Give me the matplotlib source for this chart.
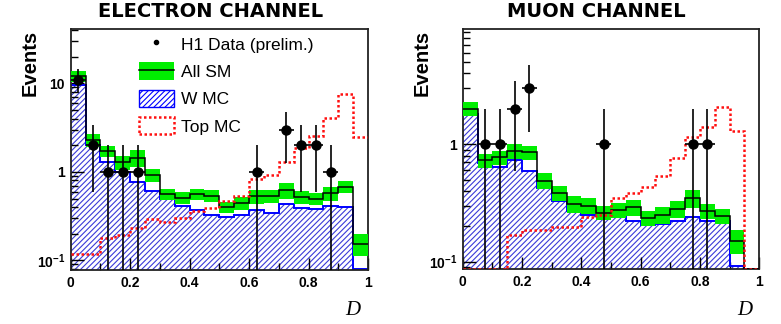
import numpy as np
import matplotlib.pyplot as plt
from matplotlib.patches import Patch
from matplotlib.lines import Line2D
from matplotlib.ticker import FixedLocator, FixedFormatter, NullFormatter

plt.rcParams['mathtext.fontset'] = 'custom'
plt.rcParams['mathtext.bf'] = 'Liberation Sans:bold'
plt.rcParams['mathtext.rm'] = 'Liberation Sans:bold'
plt.rcParams['hatch.linewidth'] = 0.8

# bins in D
edges = np.linspace(0.0, 1.0, 21)

# electron channel
e_sm = [12.1, 2.3, 1.72, 1.28, 1.45, 0.92, 0.56, 0.51, 0.56, 0.54,
        0.40, 0.45, 0.53, 0.54, 0.62, 0.52, 0.50, 0.57, 0.68, 0.155]
e_sm_err = [1.7, 0.4, 0.25, 0.22, 0.32, 0.16, 0.08, 0.08, 0.085, 0.085,
            0.06, 0.075, 0.10, 0.09, 0.12, 0.09, 0.08, 0.10, 0.11, 0.043]
e_w = [9.6, 2.03, 1.3, 1.0, 0.77, 0.61, 0.49, 0.41, 0.37, 0.33,
       0.31, 0.33, 0.37, 0.34, 0.43, 0.39, 0.38, 0.41, 0.40, 0.081]
e_top = [0.118, 0.118, 0.178, 0.194, 0.235, 0.29, 0.27, 0.30, 0.36, 0.39,
         0.47, 0.54, 0.82, 0.92, 1.28, 1.86, 2.52, 4.04, 7.5, 2.5]
e_data_x = [0.025, 0.075, 0.125, 0.175, 0.225, 0.625, 0.725, 0.775, 0.825, 0.875]
e_data_n = [11, 2, 1, 1, 1, 1, 3, 2, 2, 1]

# muon channel
m_sm = [2.0, 0.73, 0.77, 0.88, 0.85, 0.49, 0.385, 0.31, 0.30, 0.26,
        0.275, 0.29, 0.235, 0.25, 0.28, 0.345, 0.27, 0.245, 0.15, 0.0]
m_sm_err = [0.28, 0.10, 0.11, 0.13, 0.12, 0.075, 0.055, 0.05, 0.045, 0.035,
            0.04, 0.045, 0.035, 0.04, 0.045, 0.06, 0.04, 0.035, 0.035, 0.0]
m_w = [1.79, 0.685, 0.64, 0.74, 0.59, 0.42, 0.33, 0.27, 0.25, 0.245,
       0.245, 0.22, 0.205, 0.21, 0.22, 0.24, 0.22, 0.22, 0.091, 0.0]
m_top = [0.0, 0.0, 0.0, 0.168, 0.186, 0.186, 0.198, 0.198, 0.238, 0.25,
         0.35, 0.386, 0.43, 0.54, 0.755, 1.15, 1.39, 2.07, 1.29, 0.0]
m_data_x = [0.075, 0.125, 0.175, 0.225, 0.475, 0.775, 0.825]
m_data_n = [1, 1, 2, 3, 1, 1, 1]

GREEN = '#00ee00'
BLUE = '#0000ff'
HATCH = '#3a3ad8'
RED = '#ff1010'


def panel(ax, sm, sm_err, w, top, dx, dn, ymin, ymax, yticks, ylabels):
    sm = np.array(sm)
    err = np.array(sm_err)
    floor = ymin * 1.01
    # W MC, hatched
    ax.stairs(np.clip(w, floor, None), edges, baseline=1e-4, fill=True,
              facecolor='white', edgecolor=HATCH, hatch='//////', linewidth=0, zorder=1)
    ax.stairs(np.clip(w, floor, None), edges, baseline=None, color=BLUE, lw=1.4, zorder=2)
    # All SM with error band
    ax.stairs(np.clip(sm + err, floor, None), edges, baseline=np.clip(sm - err, 1e-4, None),
              fill=True, color=GREEN, lw=0, zorder=3)
    ax.stairs(np.clip(sm, floor, None), edges, baseline=None, color='black', lw=1.1, zorder=4)
    # Top MC
    ax.stairs(np.clip(top, floor, None), edges, baseline=None, color=RED, lw=1.8,
              linestyle=(0, (1, 1)), zorder=5)
    # data
    n = np.array(dn, dtype=float)
    lo = np.minimum(np.sqrt(n), n - 1e-4)
    ax.errorbar(dx, n, xerr=0.025, yerr=[lo, np.sqrt(n)], fmt='o', color='black',
                ms=6.5, elinewidth=1.2, capsize=0, zorder=6)

    ax.set_yscale('log')
    ax.set_xlim(0, 1)
    ax.set_ylim(ymin, ymax)
    ax.xaxis.set_major_locator(FixedLocator([0, 0.2, 0.4, 0.6, 0.8, 1.0]))
    ax.xaxis.set_major_formatter(FixedFormatter(['0', '0.2', '0.4', '0.6', '0.8', '1']))
    ax.xaxis.set_minor_locator(FixedLocator([0.1, 0.3, 0.5, 0.7, 0.9]))
    ax.yaxis.set_major_locator(FixedLocator(yticks))
    ax.yaxis.set_major_formatter(FixedFormatter(ylabels))
    minors = [m * 10.0 ** k for k in range(-2, 3) for m in range(2, 10)]
    ax.yaxis.set_minor_locator(FixedLocator(minors))
    ax.yaxis.set_minor_formatter(NullFormatter())
    ax.tick_params(which='both', direction='in', top=False, right=False, width=1.0)
    ax.tick_params(which='major', length=9, pad=4)
    ax.tick_params(which='minor', length=5)
    for lab in ax.get_xticklabels() + ax.get_yticklabels():
        lab.set_fontfamily('Liberation Sans')
        lab.set_fontweight('bold')
        lab.set_fontsize(10)
    for sp in ax.spines.values():
        sp.set_linewidth(1.3)
        sp.set_color('#222222')
    ax.text(0.95, -0.13, 'D', transform=ax.transAxes, ha='center', va='top',
            fontsize=15, fontstyle='italic', family='Liberation Serif')


fig = plt.figure(figsize=(7.81, 3.24), dpi=100)
ax1 = fig.add_axes([0.0905, 0.1667, 0.3807, 0.7438])
ax2 = fig.add_axes([0.5925, 0.1688, 0.3797, 0.7408])

panel(ax1, e_sm, e_sm_err, e_w, e_top, e_data_x, e_data_n, 0.078, 41,
      [0.1, 1, 10], [r'$\mathbf{10^{-1}}$', '1', '10'])
panel(ax2, m_sm, m_sm_err, m_w, m_top, m_data_x, m_data_n, 0.086, 9.5,
      [0.1, 1], [r'$\mathbf{10^{-1}}$', '1'])

fig.text(0.270, 0.9466, 'ELECTRON CHANNEL', ha='center', va='baseline',
         fontsize=14, fontweight='bold', family='DejaVu Sans')
fig.text(0.764, 0.9466, 'MUON CHANNEL', ha='center', va='baseline',
         fontsize=14, fontweight='bold', family='DejaVu Sans')
for xl in (0.0384, 0.541):
    fig.text(xl, 0.907, 'Events', rotation=90, ha='center', va='top',
             fontsize=14.5, fontweight='bold', family='Liberation Sans')

handles = [
    Line2D([], [], marker='o', ms=3, color='black', linestyle='none'),
    (Patch(facecolor=GREEN, edgecolor='none'), Line2D([], [], color='black', lw=1.1)),
    Patch(facecolor='white', edgecolor=BLUE, hatch='//////', lw=1.0),
    Patch(facecolor='none', edgecolor=RED, linestyle=(0, (1, 1)), lw=1.8),
]
labels = ['H1 Data (prelim.)', 'All SM', 'W MC', 'Top MC']
leg = ax1.legend(handles, labels, loc='upper left', bbox_to_anchor=(0.2297, 0.975),
                 frameon=False, prop={'family': 'Liberation Sans', 'size': 12.5},
                 handlelength=2.0, handleheight=1.15, labelspacing=0.57,
                 handletextpad=0.4, borderpad=0, borderaxespad=0)
leg.set_zorder(10)

fig.savefig('out.png', dpi=100)
